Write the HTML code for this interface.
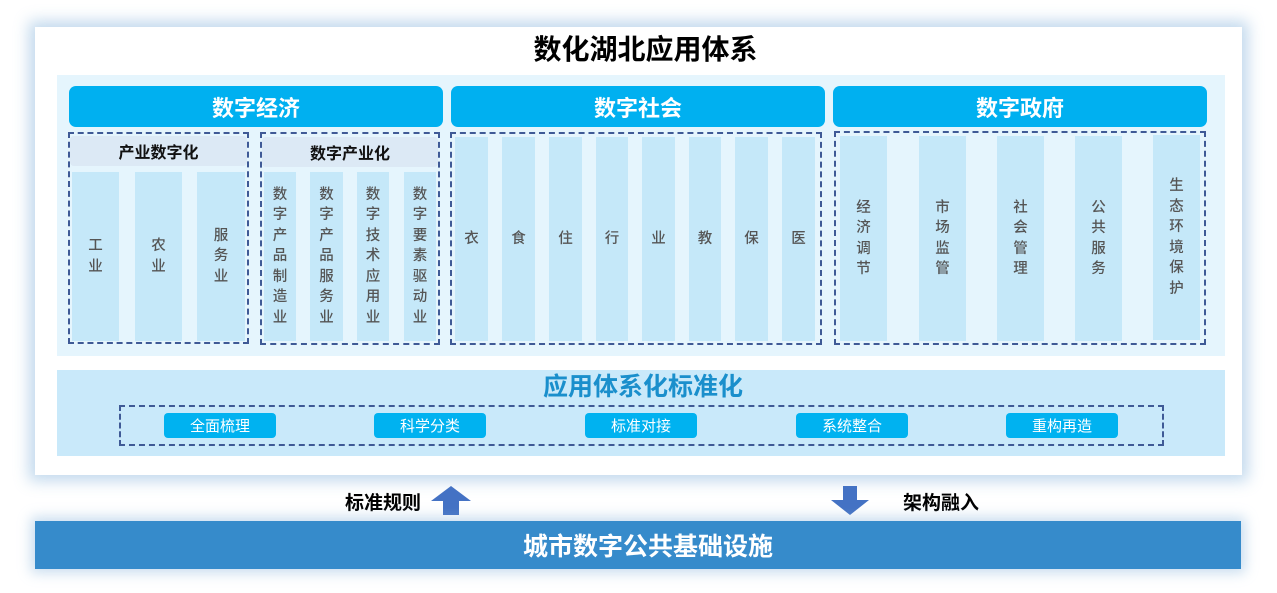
<!DOCTYPE html>
<html><head><meta charset="utf-8"><style>
*{margin:0;padding:0;box-sizing:border-box}
body{width:1277px;height:593px;background:#fff;position:relative;overflow:hidden;font-family:"Liberation Sans","Noto Sans CJK SC",sans-serif}
.a{position:absolute}
.col{position:absolute;background:#c5e8f9;display:flex;align-items:center;justify-content:center;text-align:center;color:#555;font-size:14.5px;line-height:20.5px;font-weight:500}
.hd{position:absolute;background:#00b0f0;border-radius:7px;color:#fff;font-weight:bold;font-size:22px;display:flex;align-items:center;justify-content:center}
.dash{position:absolute;border:2px dashed #3f5a96}
.btn{position:absolute;background:#00b2f0;border-radius:4px;color:#fff;font-size:15px;display:flex;align-items:center;justify-content:center;top:413px;height:25px;width:112px}
.sub{position:absolute;background:#dce9f5;border-radius:4px;font-size:16px;font-weight:bold;color:#111;display:flex;align-items:center;justify-content:center}
</style></head><body>
<div class="a" style="left:35px;top:27px;width:1207px;height:448px;background:#fff;box-shadow:0 0 14px 6px rgba(120,170,215,0.45)"></div>
<div class="a" style="left:42px;top:33px;width:1207px;text-align:center;font-size:28px;font-weight:bold;color:#000;line-height:34px">数化湖北应用体系</div>
<div class="a" style="left:57px;top:75px;width:1168px;height:281px;background:#e5f5fd"></div>
<div class="hd" style="left:69px;top:86px;width:374px;height:41px">数字经济</div>
<div class="hd" style="left:451px;top:86px;width:374px;height:41px">数字社会</div>
<div class="hd" style="left:833px;top:86px;width:374px;height:41px">数字政府</div>

<div class="dash" style="left:68px;top:132px;width:181px;height:212px"></div>
<div class="sub" style="left:70px;top:136px;width:177px;height:30px">产业数字化</div>
<div class="col" style="left:72px;top:172px;width:47px;height:169px">工<br>业</div>
<div class="col" style="left:135px;top:172px;width:47px;height:169px">农<br>业</div>
<div class="col" style="left:197px;top:172px;width:48px;height:169px">服<br>务<br>业</div>

<div class="dash" style="left:260px;top:132px;width:180px;height:213px"></div>
<div class="sub" style="left:262px;top:137px;width:176px;height:30px">数字产业化</div>
<div class="col" style="left:264px;top:172px;width:32px;height:169px">数<br>字<br>产<br>品<br>制<br>造<br>业</div>
<div class="col" style="left:310px;top:172px;width:33px;height:169px">数<br>字<br>产<br>品<br>服<br>务<br>业</div>
<div class="col" style="left:357px;top:172px;width:32px;height:169px">数<br>字<br>技<br>术<br>应<br>用<br>业</div>
<div class="col" style="left:404px;top:172px;width:32px;height:169px">数<br>字<br>要<br>素<br>驱<br>动<br>业</div>

<div class="dash" style="left:450px;top:132px;width:372px;height:213px"></div>
<div class="col" style="left:455px;top:137px;width:33px;height:204px">衣</div>
<div class="col" style="left:502px;top:137px;width:33px;height:204px">食</div>
<div class="col" style="left:549px;top:137px;width:33px;height:204px">住</div>
<div class="col" style="left:596px;top:137px;width:32px;height:204px">行</div>
<div class="col" style="left:642px;top:137px;width:33px;height:204px">业</div>
<div class="col" style="left:689px;top:137px;width:32px;height:204px">教</div>
<div class="col" style="left:735px;top:137px;width:33px;height:204px">保</div>
<div class="col" style="left:782px;top:137px;width:33px;height:204px">医</div>

<div class="dash" style="left:834px;top:131px;width:372px;height:214px"></div>
<div class="col" style="left:840px;top:136px;width:47px;height:205px">经<br>济<br>调<br>节</div>
<div class="col" style="left:919px;top:136px;width:47px;height:205px">市<br>场<br>监<br>管</div>
<div class="col" style="left:997px;top:136px;width:47px;height:205px">社<br>会<br>管<br>理</div>
<div class="col" style="left:1075px;top:136px;width:47px;height:205px">公<br>共<br>服<br>务</div>
<div class="col" style="left:1153px;top:135px;width:47px;height:205px">生<br>态<br>环<br>境<br>保<br>护</div>

<div class="a" style="left:57px;top:370px;width:1168px;height:86px;background:#c9e9fa"></div>
<div class="a" style="left:59px;top:371px;width:1168px;text-align:center;font-size:25px;font-weight:bold;color:#1a8fcc;line-height:32px">应用体系化标准化</div>
<div class="dash" style="left:119px;top:405px;width:1045px;height:41px"></div>
<div class="btn" style="left:164px">全面梳理</div>
<div class="btn" style="left:374px">科学分类</div>
<div class="btn" style="left:585px">标准对接</div>
<div class="btn" style="left:796px">系统整合</div>
<div class="btn" style="left:1006px">重构再造</div>

<div class="a" style="left:345px;top:488px;font-size:19px;font-weight:bold;color:#000">标准规则</div>
<svg class="a" style="left:430px;top:486px" width="42" height="30"><polygon points="21,0 41,15 29,15 29,29 13,29 13,15 1,15" fill="#4472c4"/></svg>
<svg class="a" style="left:829px;top:486px" width="42" height="30"><polygon points="14,0 28,0 28,14 40,14 21,29 2,14 14,14" fill="#4472c4"/></svg>
<div class="a" style="left:903px;top:488px;font-size:19px;font-weight:bold;color:#000">架构融入</div>

<div class="a" style="left:35px;top:521px;width:1206px;height:48px;background:#368bcb;box-shadow:0 0 12px 4px rgba(120,170,215,0.4);color:#fff;font-weight:bold;font-size:25px;display:flex;align-items:center;justify-content:center;padding-left:20px">城市数字公共基础设施</div>
</body></html>
